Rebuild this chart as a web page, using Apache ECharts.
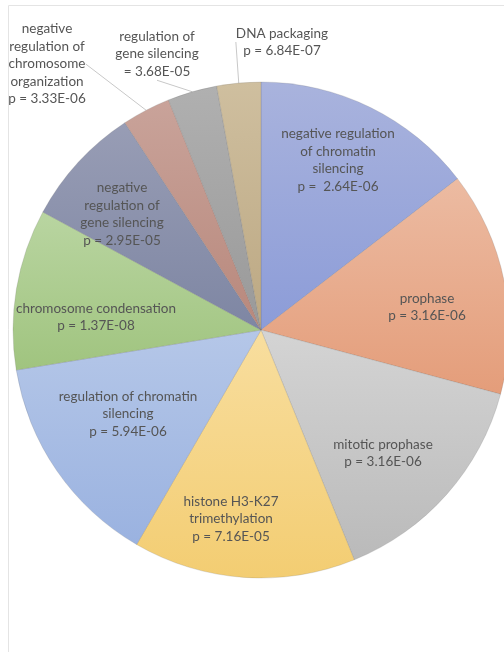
<!DOCTYPE html>
<html><head><meta charset="utf-8">
<script src="https://cdn.jsdelivr.net/npm/echarts@6/dist/echarts.min.js"></script>
<style>html,body{margin:0;padding:0;background:#fff}#c{width:504px;height:652px}</style>
</head><body><div id="c"></div>
<script>
// Data
var categories = [
  'negative regulation\nof chromatin\nsilencing',
  'prophase',
  'mitotic prophase',
  'histone H3-K27\ntrimethylation',
  'regulation of chromatin\nsilencing',
  'chromosome condensation',
  'negative\nregulation of\ngene silencing',
  'negative\nregulation of\nchromosome\norganization',
  'regulation of\ngene silencing',
  'DNA packaging'
];
var pTexts = ['p =  2.64E-06','p = 3.16E-06','p = 3.16E-06','p = 7.16E-05','p = 5.94E-06','p = 1.37E-08','p = 2.95E-05','p = 3.33E-06','= 3.68E-05','p = 6.84E-07'];
var values = [52.4, 52.6, 52.9, 52.2, 50.6, 37.7, 28.3, 11.4, 11.6, 10.3];

// Styles
var topColors = ['#A9B3DD','#ECBBA2','#D4D4D4','#F8DE9F','#B5C7E8','#B9D5A1','#989DB5','#C9A39A','#B0B0B0','#CFBF9F'];
var botColors = ['#8C9CD8','#E49D7A','#BABABA','#F3CD72','#9AB2E0','#A0C47F','#7E86A3','#B8887C','#999999','#BCA883'];
var labelPos = [[338,160],[427,307],[383,453],[231,519],[128,414],[96,317],[122,214],[47,64],[157,54],[282,42]];
var outside = [false,false,false,false,false,false,false,true,true,true];

var chart = echarts.init(document.getElementById('c'), null, {renderer:'canvas'});
var data = values.map(function(v,i){
  return {
    value: v,
    name: categories[i],
    itemStyle: {
      color: {type:'linear', x:0, y:0, x2:0, y2:1, colorStops:[{offset:0,color:topColors[i]},{offset:1,color:botColors[i]}]}
    },
    label: {position: outside[i] ? 'outside' : 'inside'},
    labelLine: {show: outside[i]}
  };
});
chart.setOption({
  animation: false,
  graphic: [{type:'rect', shape:{x:8.5,y:5.5,width:800,height:900}, style:{fill:'none', stroke:'#E4E4E4', lineWidth:1}, z:-1, silent:true}],
  series: [{
    type: 'pie',
    center: [261, 330],
    radius: 248,
    startAngle: 90,
    clockwise: true,
    avoidLabelOverlap: false,
    data: data,
    itemStyle: {borderColor: 'rgba(90,90,90,0.25)', borderWidth: 0.7},
    label: {
      show: true,
      formatter: function(p){ return p.name + '\n' + pTexts[p.dataIndex]; },
      color: '#555555',
      fontFamily: 'Lato',
      fontSize: 13.5,
      lineHeight: 17.5,
      align: 'center'
    },
    labelLine: {length: 10, length2: 0, lineStyle: {color: '#C8C8C8', width: 1}},
    labelLayout: function(p){
      var lp = labelPos[p.dataIndex];
      return {x: lp[0], y: lp[1], align: 'center', verticalAlign: 'middle'};
    },
    emphasis: {disabled: true}
  }]
});
</script></body></html>
